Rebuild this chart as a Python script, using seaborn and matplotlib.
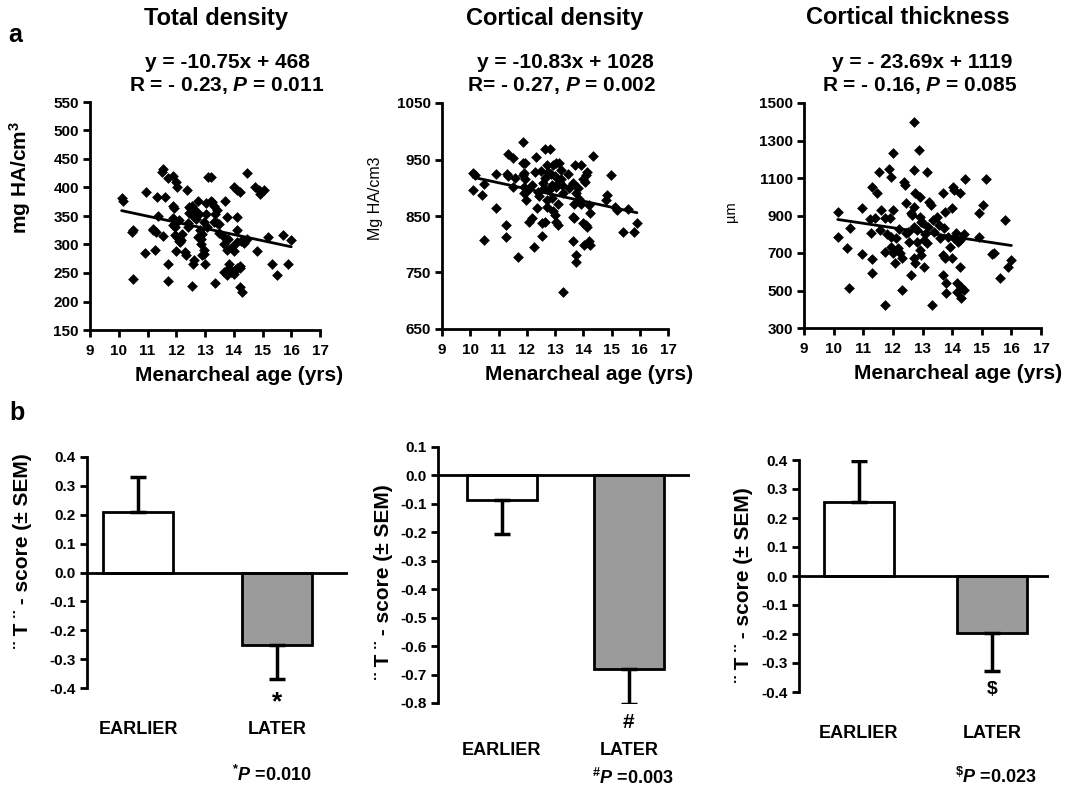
import numpy as np
import pandas as pd
import matplotlib
matplotlib.use('Agg')
import matplotlib.pyplot as plt
import seaborn as sns

# ---- scatter data (menarcheal age vs. bone measure) ----
age_tot = [10.1, 10.15, 10.45, 10.5, 10.5, 10.94, 10.9, 11.26, 11.2, 11.3, 11.34, 11.35, 11.55, 11.5,
           11.6, 11.55, 11.7, 11.72, 11.72, 11.9, 11.9, 11.92, 11.88, 11.96, 11.94, 12.0, 12.02, 11.98,
           11.97, 12.03, 12.1, 12.18, 12.13, 12.36, 12.3, 12.35, 12.45, 12.5, 12.55, 12.6, 12.58, 12.57,
           12.63, 12.56, 12.42, 12.77, 12.7, 12.8, 12.83, 12.9, 12.75, 12.85, 12.95, 12.9, 12.97, 13.0,
           13.05, 13.1, 13.2, 13.06, 13.3, 13.35, 13.25, 13.35, 13.5, 13.7, 13.65, 13.66, 13.75, 13.75,
           13.65, 13.75, 13.85, 13.92, 14.0, 14.05, 14.13, 14.2, 13.85, 13.93, 14.0, 14.1, 14.0, 14.1,
           14.2, 14.22, 14.28, 14.2, 14.12, 14.24, 14.45, 14.35, 14.45, 14.75, 14.87, 14.93, 15.05, 14.8,
           15.32, 15.5, 15.2, 15.7, 15.9, 16.0, 12.45, 12.6, 12.7, 13.05, 13.2, 13.4, 12.1, 11.9, 12.95,
           13.3, 13.43, 11.2, 12.2, 12.1, 12.4, 13.5, 13.8, 14.1, 12.85]
tot_density = [382, 376, 322, 325, 240, 392, 285, 290, 325, 322, 384, 350, 433, 427,
               384, 315, 266, 236, 417, 421, 368, 364, 346, 337, 330, 409, 400, 289,
               316, 313, 312, 308, 304, 395, 286, 281, 355, 362, 368, 357, 350, 266,
               272, 227, 330, 377, 345, 353, 325, 319, 313, 300, 290, 281, 284, 266,
               354, 418, 418, 330, 368, 354, 374, 232, 336, 377, 313, 301, 290, 348,
               252, 247, 258, 252, 248, 255, 258, 258, 266, 295, 289, 348, 401, 396,
               392, 225, 216, 263, 325, 307, 425, 302, 310, 401, 395, 388, 396, 289,
               266, 246, 313, 317, 266, 308, 365, 362, 355, 372, 376, 360, 343, 334, 339,
               340, 337, 328, 318, 306, 338, 320, 310, 305, 310]

age_cort = [10.1, 10.16, 10.1, 10.4, 10.5, 10.48, 10.9, 10.9, 11.26, 11.26, 11.3, 11.35, 11.35, 11.5,
            11.5, 11.57, 11.7, 11.87, 11.85, 11.95, 11.85, 11.9, 11.9, 11.92, 11.98, 12.07, 12.18, 12.3,
            12.33, 12.27, 12.35, 12.4, 12.53, 12.53, 12.65, 12.58, 12.65, 12.65, 12.82, 12.7, 12.76, 12.7,
            12.72, 12.8, 12.88, 12.93, 13.05, 12.93, 13.0, 13.05, 13.1, 13.05, 13.15, 13.2, 13.1, 13.15,
            13.2, 13.3, 13.45, 13.7, 13.63, 13.67, 13.63, 13.67, 13.63, 13.75, 13.75, 13.75, 13.8, 13.92,
            13.92, 13.98, 14.1, 14.15, 14.03, 14.0, 14.1, 14.15, 14.2, 14.25, 14.25, 14.35, 14.8, 14.85,
            14.97, 15.13, 15.2, 15.42, 15.6, 15.8, 15.9, 12.0, 12.2, 12.45, 12.6, 12.9, 13.0, 13.3, 13.5,
            13.85, 14.05, 14.2, 12.5, 12.85, 13.25, 11.95]
cort_density = [926, 922, 896, 888, 906, 808, 924, 864, 834, 812, 924, 921, 960, 952,
                902, 918, 778, 981, 944, 944, 922, 926, 902, 890, 878, 840, 846, 928,
                955, 796, 864, 893, 814, 837, 840, 908, 917, 969, 969, 940, 928, 866,
                878, 896, 881, 940, 943, 858, 852, 840, 834, 902, 911, 916, 872, 943,
                931, 716, 925, 940, 908, 872, 849, 846, 805, 781, 769, 890, 899, 940,
                872, 916, 922, 928, 799, 837, 834, 831, 805, 799, 855, 956, 878, 887,
                922, 866, 860, 822, 862, 822, 838, 895, 905, 885, 900, 905, 920, 890, 900,
                880, 910, 870, 930, 925, 905, 915]

age_thick = [10.16, 10.14, 10.45, 10.56, 10.53, 10.95, 10.95, 11.23, 11.3, 11.48, 11.53, 11.27, 11.3,
             11.3, 11.38, 11.61, 11.58, 11.72, 11.72, 11.72, 11.88, 11.92, 11.9, 11.95, 12.0, 11.95,
             12.0, 12.07, 12.18, 12.24, 12.3, 12.0, 12.37, 12.4, 12.45, 12.3, 12.45, 12.6, 12.7, 12.7,
             12.6, 12.65, 12.7, 12.76, 12.7, 12.8, 12.7, 12.75, 12.8, 12.87, 12.9, 12.9, 12.95, 13.0,
             12.9, 12.95, 13.06, 13.06, 13.14, 13.14, 13.23, 13.28, 13.34, 13.33, 13.5, 13.7, 13.75,
             13.73, 13.7, 13.75, 13.7, 13.8, 13.8, 13.87, 13.98, 13.93, 14.02, 14.0, 14.05, 14.12, 14.17,
             14.15, 14.25, 14.27, 14.25, 14.3, 14.4, 14.3, 14.45, 14.4, 14.9, 14.9, 15.03, 15.15, 15.35,
             15.42, 15.6, 15.8, 15.89, 16.0, 12.2, 12.5, 13.1, 13.4, 13.6, 14.05, 14.2, 11.8, 12.1,
             12.55, 13.2, 13.55]
thickness = [917, 787, 729, 835, 516, 938, 695, 879, 1053, 1018, 1133, 809, 667,
             596, 885, 929, 823, 885, 704, 424, 1147, 1106, 885, 787, 929, 734,
             699, 645, 726, 699, 672, 1234, 1079, 1062, 965, 503, 805, 583, 1399, 1145,
             911, 902, 947, 1018, 840, 822, 672, 645, 761, 1248, 1000, 893, 867, 858,
             717, 690, 628, 770, 752, 1133, 973, 956, 876, 424, 894, 1018, 920,
             831, 690, 672, 583, 539, 486, 787, 672, 734, 1053, 938, 1035, 805, 539,
             494, 1018, 770, 628, 521, 503, 459, 1093, 801, 787, 911, 956, 1093, 695,
             702, 566, 876, 628, 665, 830, 810, 800, 810, 780, 780, 760, 800, 780,
             760, 840, 850]

# regression lines and stats as printed on the figure
slopes = [-10.75, -10.83, -23.69]
intercepts = [468, 1028, 1119]
titles = ['Total density', 'Cortical density', 'Cortical thickness']
eq_lines = ['y = -10.75x + 468', 'y = -10.83x + 1028', 'y = - 23.69x + 1119']
r_lines = [r'R = - 0.23, $\mathit{P}$ = 0.011', r'R= - 0.27, $\mathit{P}$ = 0.002',
           r'R = - 0.16, $\mathit{P}$ = 0.085']

# ---- bar data: "T"-score by menarche group ----
groups = ['EARLIER', 'LATER']
tot_t = [0.21, -0.25]
tot_sem = [0.12, 0.118]
cort_t = [-0.088, -0.682]
cort_sem = [0.117, 0.122]
thick_t = [0.255, -0.196]
thick_sem = [0.14, 0.13]
marks = ['*', '#', '$']
p_texts = [r'$^{*}\mathit{P}$ =0.010', r'$^{\#}\mathit{P}$ =0.003', r'$^{\$}\mathit{P}$ =0.023']

sns.set_style('ticks')
plt.rcParams['font.family'] = ['Liberation Sans', 'DejaVu Sans']
plt.rcParams['font.weight'] = 'bold'
plt.rcParams['axes.labelweight'] = 'bold'
plt.rcParams['text.color'] = 'black'
plt.rcParams['axes.labelcolor'] = 'black'
plt.rcParams['xtick.color'] = 'black'
plt.rcParams['ytick.color'] = 'black'
plt.rcParams['mathtext.fontset'] = 'custom'
plt.rcParams['mathtext.rm'] = 'Liberation Sans:bold'
plt.rcParams['mathtext.it'] = 'Liberation Sans:italic:bold'
plt.rcParams['mathtext.bf'] = 'Liberation Sans:bold'

W, H = 1076, 790
fig = plt.figure(figsize=(W / 100, H / 100), dpi=100)


def box(x0, x1, y0, y1):
    # pixel box -> figure fraction
    return [x0 / W, 1 - y1 / H, (x1 - x0) / W, (y1 - y0) / H]


def ftext(px, py, s, **kw):
    fig.text(px / W, 1 - py / H, s, ha='center', va='center', color='black', **kw)


def style_axes(ax):
    sns.despine(ax=ax)
    for side in ['left', 'bottom']:
        ax.spines[side].set_linewidth(2)
        ax.spines[side].set_color('black')
    ax.tick_params(width=2, length=5, labelsize=11, pad=3, colors='black')


# ---- row a: scatter plots ----
scatter_boxes = [(90, 320, 102, 330), (442, 668, 103, 329), (804, 1041, 103, 328)]
ylims = [(150, 550), (650, 1050), (300, 1500)]
ytick_sets = [range(150, 551, 50), range(650, 1051, 100), range(300, 1501, 200)]
xs_list = [age_tot, age_cort, age_thick]
ys_list = [tot_density, cort_density, thickness]

for i in range(3):
    ax = fig.add_axes(box(*scatter_boxes[i]))
    sns.scatterplot(x=xs_list[i], y=ys_list[i], marker='D', s=30, color='black',
                    edgecolor='black', linewidth=0, ax=ax)
    xl = np.array([min(xs_list[i]), max(xs_list[i])])
    sns.lineplot(x=xl, y=slopes[i] * xl + intercepts[i], color='black', lw=2, ax=ax)
    ax.set_xlim(9, 17)
    ax.set_xticks(range(9, 18))
    ax.set_ylim(*ylims[i])
    ax.set_yticks(list(ytick_sets[i]))
    style_axes(ax)
    ax.tick_params(axis='x', pad=5)
    ax.set_xlabel('Menarcheal age (yrs)', fontsize=15)
    ax.xaxis.set_label_coords(0.65, -0.16)
    if i == 0:
        ax.set_ylabel(r'mg HA/cm$^3$', fontsize=15)
        ax.yaxis.set_label_coords(-0.248, 0.67)
    elif i == 1:
        ax.set_ylabel('Mg HA/cm3', fontsize=11.5, fontweight='normal')
        ax.yaxis.set_label_coords(-0.26, 0.58)
    else:
        ax.set_ylabel('\u00b5m', fontsize=10.5, fontweight='normal')
        ax.yaxis.set_label_coords(-0.278, 0.516)

title_x = [216, 555, 908]
eq_x = [227, 565, 922]
r_x = [227, 562, 920]
for i in range(3):
    ftext(title_x[i], 18, titles[i], fontsize=17)
    ftext(eq_x[i], 63, eq_lines[i], fontsize=15)
    ftext(r_x[i], 86, r_lines[i], fontsize=15)

ftext(15, 35, 'a', fontsize=18)
ftext(17, 413, 'b', fontsize=18)

# ---- row b: bar charts ----
bar_boxes = [(87, 348, 457, 688), (438, 690, 447, 703), (799, 1049, 460, 692)]
bar_ylims = [(-0.4, 0.4), (-0.8, 0.1), (-0.4, 0.4)]
bar_xlims = [(-0.367, 1.51), (-0.5, 1.48), (-0.45, 1.43)]
bar_widths = [0.5, 0.55, 0.53]
means_list = [tot_t, cort_t, thick_t]
sems_list = [tot_sem, cort_sem, thick_sem]
mark_y = [-0.45, -0.87, -0.393]
mark_size = [19, 15, 14]
label_pad = [24, 28, 24]
ylab_pos = [(-0.21, 0.593), (-0.179, 0.473), (-0.184, 0.461)]
p_pos = [(272, 775), (633, 778), (996, 777)]
bar_palette = {'EARLIER': 'white', 'LATER': '#9b9b9b'}

for i in range(3):
    ax = fig.add_axes(box(*bar_boxes[i]))
    means = means_list[i]
    sems = sems_list[i]
    df = pd.DataFrame({'group': groups, 'score': means})
    sns.barplot(data=df, x='group', y='score', hue='group', palette=bar_palette,
                edgecolor='black', linewidth=2, width=bar_widths[i], legend=False, ax=ax)
    lo = [s if m < 0 else 0 for m, s in zip(means, sems)]
    hi = [s if m > 0 else 0 for m, s in zip(means, sems)]
    ax.errorbar([0, 1], means, yerr=[lo, hi], fmt='none', ecolor='black',
                elinewidth=2.5, capsize=6, capthick=2.5, zorder=1)
    ax.axhline(0, color='black', lw=2, zorder=3)
    ax.set_xlim(*bar_xlims[i])
    ax.set_ylim(*bar_ylims[i])
    ticks = np.round(np.arange(bar_ylims[i][0], bar_ylims[i][1] + 0.01, 0.1), 1)
    ax.set_yticks(ticks)
    ax.set_yticklabels([f'{v + 0:.1f}' if abs(v) > 1e-9 else '0.0' for v in ticks])
    style_axes(ax)
    ax.spines['bottom'].set_visible(False)
    ax.set_xticks([0, 1])
    ax.set_xticklabels(groups, fontsize=13)
    ax.tick_params(axis='x', length=0, pad=label_pad[i])
    ax.set_xlabel('')
    ax.set_ylabel('\u00a8 T \u00a8 - score (\u00b1 SEM)', fontsize=15)
    ax.yaxis.set_label_coords(*ylab_pos[i])
    ax.text(1, mark_y[i], marks[i], ha='center', va='center', fontsize=mark_size[i],
            color='black', clip_on=False)
    ftext(p_pos[i][0], p_pos[i][1], p_texts[i], fontsize=13)

fig.savefig('out.png', dpi=100, facecolor='white')
